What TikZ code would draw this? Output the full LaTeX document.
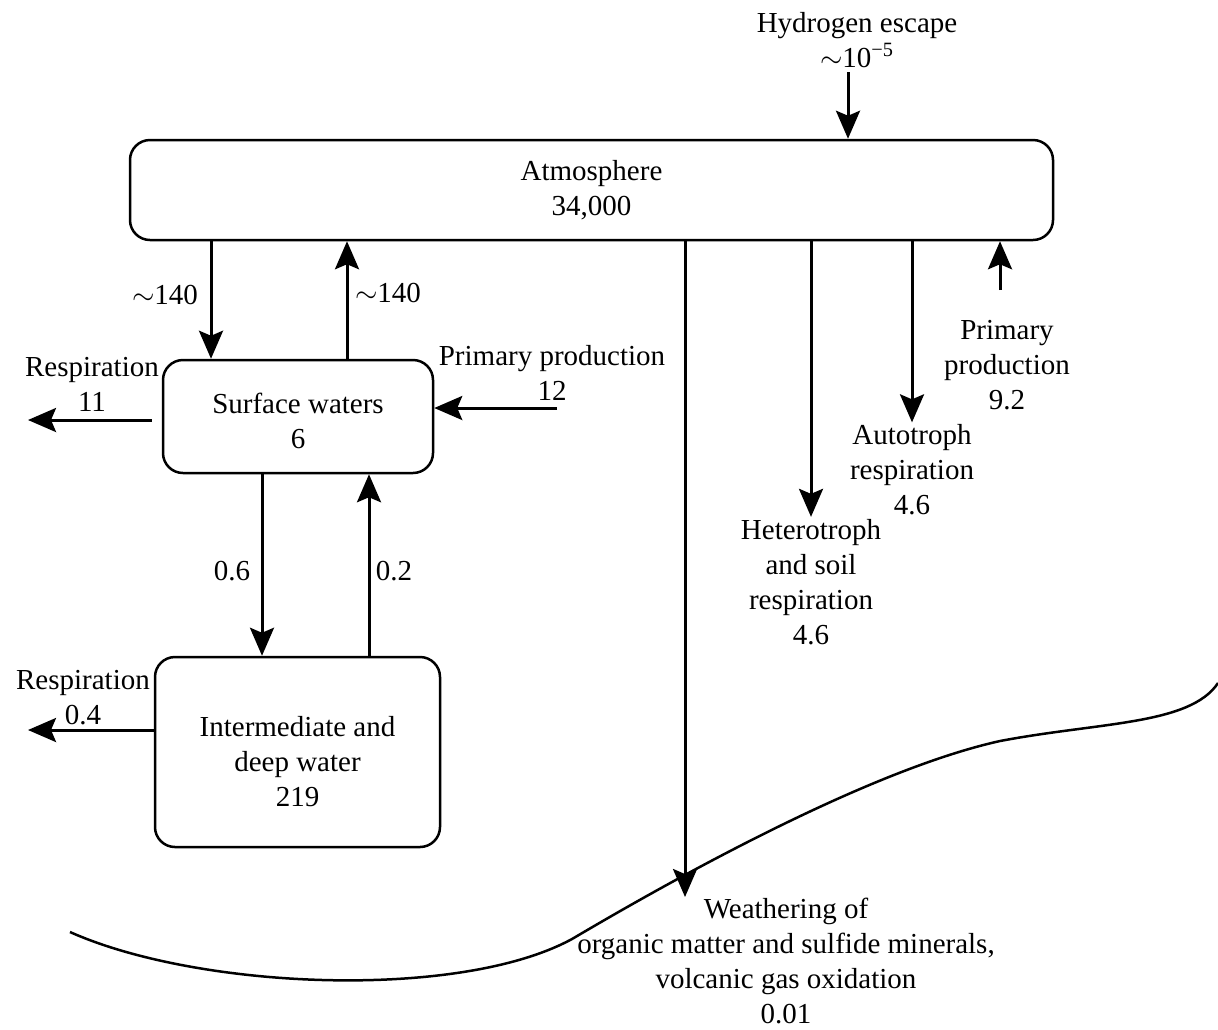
\documentclass[tikz,border=0pt]{standalone}
\usepackage{fontspec}
\setmainfont{Liberation Serif}
\usetikzlibrary{arrows.meta,positioning}

\begin{document}
\begin{tikzpicture}[
  x=0.5pt, y=-0.5pt,
  every node/.style={font=\fontsize{14.5}{17.5}\selectfont, align=center},
  pool/.style={rectangle, rounded corners=10pt, draw, line width=1.25pt},
  flux/.style={inner sep=1pt},
  arrow/.style={-{Stealth[length=14pt,width=12pt,inset=2.5pt]}, line width=1.5pt}
]
\useasboundingbox (0,0) rectangle (1218,1029);

% Reservoirs
\node[pool, minimum width=461.5pt, minimum height=50pt] (atm) at (591.5,190) {Atmosphere\\34,000};
\node[pool, minimum width=135pt, minimum height=56.5pt, text height=32pt] (surf) at (298,416.5) {Surface waters\\6};
\node[pool, minimum width=142.5pt, minimum height=95pt, text height=55pt] (deep) at (297.5,752) {Intermediate and\\deep water\\219};

% Flux labels
\node[flux] (hyd) at (857,40) {Hydrogen escape\\$\sim$10\textsuperscript{−5}};
\node[flux] (in140) at (165,295) {$\sim$140};
\node[flux] (out140) at (388,293) {$\sim$140};
\node[flux] (resp1) at (92,384) {Respiration\\11};
\node[flux] (pp1) at (552,373) {Primary production\\12};
\node[flux] (sink06) at (232,571) {0.6};
\node[flux] (rise02) at (394,571) {0.2};
\node[flux] (resp2) at (83,698) {Respiration\\0.4};
\node[flux] (het) at (811,582) {Heterotroph\\and soil\\respiration\\4.6};
\node[flux] (aut) at (912,470) {Autotroph\\respiration\\4.6};
\node[flux] (pp2) at (1007,365) {Primary\\production\\9.2};
\node[flux] (weath) at (786,961) {Weathering of\\organic matter and sulfide minerals,\\volcanic gas oxidation\\0.01};

% Free ends
\coordinate (hydtop) at (848,72);
\coordinate (down) at (211,0);
\coordinate (up) at (347,0);
\coordinate (resp1end) at (28,420);
\coordinate (pp1start) at (557,408);
\coordinate (sink) at (262,0);
\coordinate (rise) at (369,0);
\coordinate (resp2end) at (28,730);
\coordinate (weathend) at (685,897);
\coordinate (pp2start) at (1000,290);

% Arrows
\draw[arrow] (hydtop) -- (hydtop |- atm.north);
\draw[arrow] (atm.south -| down) -- (surf.north -| down);
\draw[arrow] (surf.north -| up) -- (atm.south -| up);
\draw[arrow] ([xshift=-5pt]surf.west |- resp1end) -- (resp1end);
\draw[arrow] (pp1start) -- (surf.east |- pp1start);
\draw[arrow] (surf.south -| sink) -- (deep.north -| sink);
\draw[arrow] (deep.north -| rise) -- (surf.south -| rise);
\draw[arrow] (deep.west |- resp2end) -- (resp2end);
\draw[arrow] (atm.south -| weathend) -- (weathend);
\draw[arrow] (atm.south -| het) -- (het.north);
\draw[arrow] (atm.south -| aut) -- (aut.north);
\draw[arrow] (pp2start) -- (atm.south -| pp2start);

% Land surface
\draw[line width=1.25pt] (70,932) .. controls (200,990) and (460,1000) .. (572,939)
  .. controls (650,893) and (860,772) .. (1000,741)
  .. controls (1100,722) and (1190,725) .. (1218,683);

\end{tikzpicture}
\end{document}
